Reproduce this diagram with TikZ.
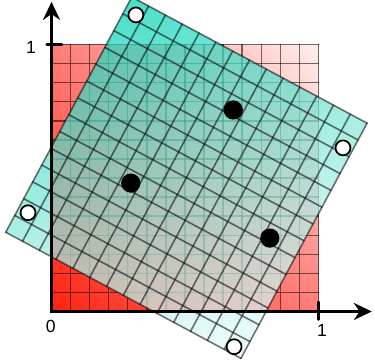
\documentclass[tikz,border=0pt]{standalone}
\usepackage{fontspec}
\setmainfont{Liberation Sans}
\usetikzlibrary{arrows.meta,shadings}

\definecolor{redcorner}{RGB}{255,35,15}
\definecolor{redmid}{RGB}{255,125,120}
\definecolor{redpale}{RGB}{255,240,238}
\definecolor{tealtop}{RGB}{0,210,180}
\definecolor{tealmid}{RGB}{140,232,218}
\definecolor{tealpale}{RGB}{235,252,252}

\begin{document}
\begin{tikzpicture}[x=5.34cm,y=5.34cm,>={Stealth[length=3.6mm,width=3.4mm]},line cap=round,line join=round]
\useasboundingbox (-0.193,-0.192) rectangle (1.212,1.167);
\coordinate (O) at (0,0);
\coordinate (X) at (1.2,0);
\coordinate (Y) at (0,1.16);
% red unit square
\shade[lower left=redcorner,upper left=redmid,lower right=redmid,upper right=redpale] (0,0) rectangle (1,1);
\foreach \i in {0,...,14}{
  \draw[line width=0.8pt,draw=black,draw opacity=0.55] (\i/14,0) -- (\i/14,1);
  \draw[line width=0.8pt,draw=black,draw opacity=0.55] (0,\i/14) -- (1,\i/14);
}
% rotated square
\begin{scope}[transform canvas={rotate around={-28.2:(0.505,0.49)}}]
\shade[fill opacity=0.72,upper left=tealtop,upper right=tealmid,lower left=tealmid,lower right=tealpale] (0,0) rectangle (1,1);
\foreach \i in {0,...,14}{
  \draw[line width=0.9pt,draw=black,draw opacity=0.55] (\i/14,0) -- (\i/14,1);
  \draw[line width=0.9pt,draw=black,draw opacity=0.55] (0,\i/14) -- (1,\i/14);
}
\end{scope}
% axes
\draw[<->,line width=1.7pt,line join=miter,line cap=butt] (Y) -- (O) -- (X);
\draw[line width=1.7pt] (1,-0.03) -- (1,0.035);
\draw[line width=1.7pt] (-0.017,1) -- (0.039,1);
\node[font=\fontsize{10}{12}\selectfont] (lbl0) at (-0.003,-0.055) {0};
\node[font=\fontsize{10}{12}\selectfont] (lblx) at (1.013,-0.072) {1};
\node[font=\fontsize{10}{12}\selectfont] (lbly) at (-0.077,0.99) {1};
% corner marks
\coordinate (p1) at (0.316,1.111);
\coordinate (p2) at (1.092,0.613);
\coordinate (p3) at (0.684,-0.132);
\coordinate (p4) at (-0.088,0.370);
\foreach \p in {p1,p2,p3,p4}
  \filldraw[fill=white,draw=black,line width=1pt] (\p) circle (0.028);
% inner points
\coordinate (q1) at (0.681,0.755);
\coordinate (q2) at (0.297,0.481);
\coordinate (q3) at (0.818,0.275);
\foreach \q in {q1,q2,q3}
  \fill (\q) circle (0.036);
\end{tikzpicture}
\end{document}
